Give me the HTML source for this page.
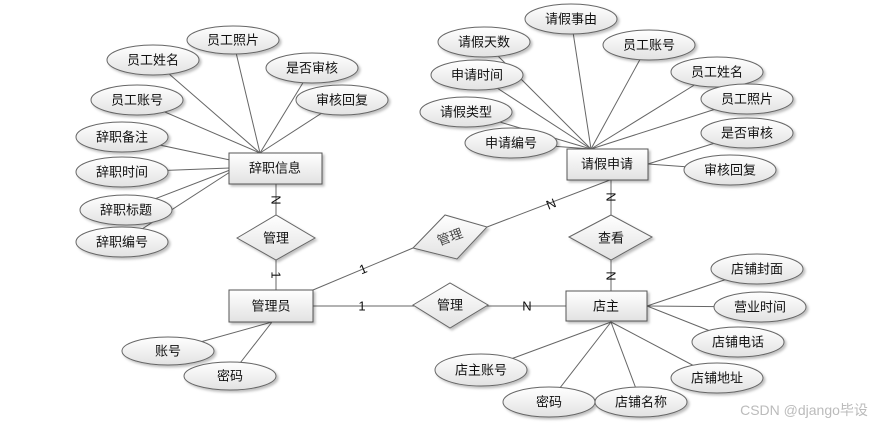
<!DOCTYPE html>
<html><head><meta charset="utf-8"><style>
html,body{margin:0;padding:0;background:#fff;}
svg text{font-family:"Liberation Sans","Noto Sans CJK SC","WenQuanYi Zen Hei",sans-serif;font-size:13px;fill:#111;}
</style></head><body>
<svg width="881" height="425" viewBox="0 0 881 425" xmlns="http://www.w3.org/2000/svg">
<defs>
<linearGradient id="g" x1="0" y1="0" x2="0" y2="1"><stop offset="0" stop-color="#ffffff"/><stop offset="1" stop-color="#e2e2e2"/></linearGradient>
<filter id="s" x="-20%" y="-20%" width="150%" height="150%"><feDropShadow dx="2" dy="2" stdDeviation="1.2" flood-color="#000" flood-opacity="0.25"/></filter>
</defs>
<g stroke="#666" stroke-width="1" fill="none">
<!-- left entity lines -->
<line x1="233" y1="40" x2="260" y2="153"/>
<line x1="153" y1="60" x2="260" y2="153"/>
<line x1="312" y1="68" x2="260" y2="153"/>
<line x1="137" y1="100" x2="260" y2="153"/>
<line x1="342" y1="100" x2="260" y2="153"/>
<line x1="122" y1="137" x2="230" y2="160"/>
<line x1="122" y1="172" x2="230" y2="168"/>
<line x1="126" y1="210" x2="230" y2="170"/>
<line x1="122" y1="242" x2="230" y2="172"/>
<!-- right entity lines -->
<line x1="571" y1="19" x2="591" y2="149"/>
<line x1="484" y1="42" x2="591" y2="149"/>
<line x1="649" y1="43" x2="591" y2="149"/>
<line x1="477" y1="75" x2="591" y2="149"/>
<line x1="717" y1="71" x2="591" y2="149"/>
<line x1="747" y1="99" x2="591" y2="149"/>
<line x1="466" y1="112" x2="591" y2="149"/>
<line x1="511" y1="143" x2="591" y2="149"/>
<line x1="747" y1="133" x2="648" y2="164"/>
<line x1="730" y1="170" x2="648" y2="164"/>
<!-- shop lines -->
<line x1="757" y1="269" x2="647" y2="306"/>
<line x1="760" y1="307" x2="647" y2="306"/>
<line x1="738" y1="342" x2="647" y2="306"/>
<line x1="717" y1="378" x2="611" y2="322"/>
<line x1="481" y1="370" x2="611" y2="322"/>
<line x1="549" y1="402" x2="611" y2="322"/>
<line x1="641" y1="402" x2="611" y2="322"/>
<!-- admin lines -->
<line x1="168" y1="351" x2="272" y2="322"/>
<line x1="230" y1="376" x2="272" y2="322"/>
<!-- relationship lines -->
<line x1="276" y1="184" x2="276" y2="290"/>
<line x1="313" y1="306" x2="566" y2="306"/>
<line x1="313" y1="290" x2="413" y2="248"/>
<line x1="487" y1="227" x2="610" y2="180"/>
<line x1="611" y1="180" x2="611" y2="291"/>
</g>
<!-- ellipses -->
<g stroke="#666" stroke-width="1" fill="url(#g)" filter="url(#s)">
<ellipse cx="233" cy="40" rx="46" ry="14"/>
<ellipse cx="153" cy="60" rx="46" ry="15"/>
<ellipse cx="312" cy="68" rx="46" ry="15"/>
<ellipse cx="137" cy="100" rx="46" ry="15"/>
<ellipse cx="342" cy="100" rx="46" ry="15"/>
<ellipse cx="122" cy="137" rx="46" ry="15"/>
<ellipse cx="122" cy="172" rx="46" ry="15"/>
<ellipse cx="126" cy="210" rx="46" ry="15"/>
<ellipse cx="122" cy="242" rx="46" ry="15"/>
<ellipse cx="571" cy="19" rx="46" ry="15"/>
<ellipse cx="484" cy="42" rx="46" ry="15"/>
<ellipse cx="649" cy="45" rx="46" ry="15"/>
<ellipse cx="477" cy="75" rx="46" ry="15"/>
<ellipse cx="717" cy="72" rx="46" ry="15"/>
<ellipse cx="747" cy="99" rx="46" ry="15"/>
<ellipse cx="466" cy="112" rx="46" ry="15"/>
<ellipse cx="511" cy="143" rx="46" ry="15"/>
<ellipse cx="747" cy="133" rx="46" ry="15"/>
<ellipse cx="730" cy="170" rx="46" ry="15"/>
<ellipse cx="757" cy="269" rx="46" ry="15"/>
<ellipse cx="760" cy="307" rx="46" ry="15"/>
<ellipse cx="738" cy="342" rx="46" ry="15"/>
<ellipse cx="717" cy="378" rx="46" ry="15"/>
<ellipse cx="481" cy="370" rx="46" ry="16"/>
<ellipse cx="549" cy="402" rx="46" ry="15"/>
<ellipse cx="641" cy="402" rx="46" ry="15"/>
<ellipse cx="168" cy="351" rx="46" ry="14"/>
<ellipse cx="230" cy="376" rx="46" ry="14"/>
<!-- rects -->
<rect x="229" y="153" width="93" height="31" stroke="#555"/>
<rect x="229" y="290" width="84" height="32" stroke="#555"/>
<rect x="567" y="149" width="81" height="31" stroke="#555"/>
<rect x="566" y="291" width="81" height="30" stroke="#555"/>
<!-- diamonds -->
<polygon points="237,238 276,215 315,238 276,260"/>
<polygon points="413,248 445,215 487,227 457,259"/>
<polygon points="569,237 611,215 652,237 611,260"/>
<polygon points="413,305 450,283 488,305 450,328"/>
</g>
<g text-anchor="middle" dominant-baseline="central">
<text x="233" y="40">员工照片</text>
<text x="153" y="60">员工姓名</text>
<text x="312" y="68">是否审核</text>
<text x="137" y="100">员工账号</text>
<text x="342" y="100">审核回复</text>
<text x="122" y="137">辞职备注</text>
<text x="122" y="172">辞职时间</text>
<text x="126" y="210">辞职标题</text>
<text x="122" y="242">辞职编号</text>
<text x="571" y="19">请假事由</text>
<text x="484" y="42">请假天数</text>
<text x="649" y="45">员工账号</text>
<text x="477" y="75">申请时间</text>
<text x="717" y="72">员工姓名</text>
<text x="747" y="99">员工照片</text>
<text x="466" y="112">请假类型</text>
<text x="511" y="143">申请编号</text>
<text x="747" y="133">是否审核</text>
<text x="730" y="170">审核回复</text>
<text x="757" y="269">店铺封面</text>
<text x="760" y="307">营业时间</text>
<text x="738" y="342">店铺电话</text>
<text x="717" y="378">店铺地址</text>
<text x="481" y="370">店主账号</text>
<text x="549" y="402">密码</text>
<text x="641" y="402">店铺名称</text>
<text x="168" y="351">账号</text>
<text x="230" y="376">密码</text>
<text x="275" y="168">辞职信息</text>
<text x="271" y="306">管理员</text>
<text x="607" y="164">请假申请</text>
<text x="606" y="306">店主</text>
<text x="276" y="238">管理</text>
<text x="450" y="237" transform="rotate(-20 450 237)" style="fill:#444">管理</text>
<text x="611" y="238">查看</text>
<text x="450" y="305">管理</text>
<g style="font-family:'Liberation Serif',serif;font-size:11px;fill:#222">
<text x="276" y="200" transform="rotate(90 276 200)">N</text>
<text x="276" y="275" transform="rotate(90 276 275)">1</text>
<text x="611" y="197" transform="rotate(90 611 197)">N</text>
<text x="611" y="276" transform="rotate(90 611 276)">N</text>
<text x="362" y="306">1</text>
<text x="527" y="306">N</text>
<text x="363" y="269" transform="rotate(-22 363 269)">1</text>
<text x="551" y="204" transform="rotate(-22 551 204)">N</text>
</g>
</g>
<text x="804" y="410" text-anchor="middle" dominant-baseline="central" style="font-size:14px;fill:#bbb">CSDN @django毕设</text>
</svg>
</body></html>
